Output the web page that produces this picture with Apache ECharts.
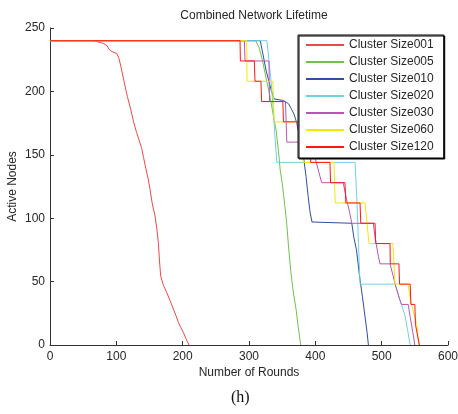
<!DOCTYPE html>
<html>
<head>
<meta charset="utf-8">
<script src="https://cdn.jsdelivr.net/npm/echarts@6/dist/echarts.min.js"></script>
<style>
  html, body { margin: 0; padding: 0; background: #fff; }
  #chart { width: 458px; height: 414px; }
</style>
</head>
<body>
<div id="chart"></div>
<script>
// Series names shown in the legend
const seriesNames = ['Cluster Size001', 'Cluster Size005', 'Cluster Size010', 'Cluster Size020',
                     'Cluster Size030', 'Cluster Size060', 'Cluster Size120'];

// Rounds / active-node pairs for each cluster size
const rounds001 = [0, 65, 72, 80, 86, 90, 95, 100.5, 104, 108, 112, 116.6, 121.6, 126, 130.6, 134, 138, 141, 144.7, 148, 150.8, 154, 158.3, 161, 163.3, 165, 166.8, 171, 175.9, 181, 186, 190, 193.5, 197, 201, 205, 209.6];
const nodes001  = [240, 240, 239, 238, 236, 232.5, 231, 230, 226, 217, 207, 196, 186, 176, 167.5, 162, 155.6, 148, 138.6, 131, 122.8, 112, 101.8, 92, 80.9, 67, 54.6, 47, 41.5, 35, 28.3, 23, 17.9, 14, 10, 5, 0];

const rounds005 = [0, 310, 315, 320, 326, 332, 337, 341, 345, 347, 350, 354, 357, 360, 363, 367, 371, 374, 378];
const nodes005  = [240, 240, 235, 225, 210, 195, 180, 169, 150, 138, 128, 110, 95, 75, 58, 41, 28, 15, 0];

const rounds010 = [0, 317, 320, 323, 326, 330, 334, 338, 350, 355, 360, 364, 368, 372, 376, 380, 383, 386, 389, 392, 395, 455, 458, 462, 467, 471, 475, 478, 480];
const nodes010  = [240, 240, 232, 224, 216, 208, 200, 194, 193, 192, 190, 186, 182, 175, 165, 155, 145, 133, 118, 105, 97, 96, 85, 75, 53, 38, 22, 10, 0];

const rounds020 = [0, 327, 330, 333, 336, 339, 342, 460, 463, 465, 467.4, 520, 525, 530, 535, 539, 543];
const nodes020  = [240, 240, 225, 210, 190, 165, 144, 144, 110, 80, 48, 48, 40, 31.5, 23.6, 12, 0];

const rounds030 = [0, 293, 294, 330, 331, 355, 357, 395, 397, 409.5, 442, 447, 452, 455, 487.5, 490, 495, 497.5, 512.6, 517, 522, 527, 530, 540, 543, 547, 550];
const nodes030  = [240, 240, 224, 224, 192, 192, 160, 160, 153, 128, 128, 115, 104, 96, 96, 85, 70, 64, 64, 55, 45, 36, 32, 32, 22, 10, 0];

const rounds060 = [0, 296.6, 297, 336, 338, 380, 382, 428, 430, 475, 479, 481, 517, 520, 540, 542, 545, 550, 553, 556];
const nodes060  = [240, 240, 208, 208, 176, 176, 144, 144, 112, 112, 90, 80, 80, 48, 48, 40, 32, 22, 16, 0];

const rounds120 = [0, 286.5, 287, 308, 309, 318, 319, 351, 352, 378, 379, 392, 393, 422, 423, 444.7, 446, 467.4, 468.5, 490, 491, 512.6, 513, 526, 527, 543, 544, 550, 551, 554, 556.8];
const nodes120  = [240, 240, 224, 224, 208, 208, 192, 192, 176, 176, 160, 160, 144, 144, 128, 128, 112, 112, 96, 96, 80, 80, 64, 64, 48, 48, 32, 32, 16, 16, 0];

// X and Y tick values
const xTicks = [0, 100, 200, 300, 400, 500, 600];
const yTicks = [0, 50, 100, 150, 200, 250];

const allRounds = [rounds001, rounds005, rounds010, rounds020, rounds030, rounds060, rounds120];
const allNodes  = [nodes001, nodes005, nodes010, nodes020, nodes030, nodes060, nodes120];
const colors = ['#f04848', '#72c04c', '#2f4ea6', '#6fd2e2', '#b956b3', '#f2ea00', '#ff1616'];

const series = seriesNames.map((name, i) => ({
  name: name,
  type: 'line',
  showSymbol: false,
  symbol: 'none',
  animation: false,
  color: colors[i],
  lineStyle: { width: 1, color: colors[i] },
  data: allRounds[i].map((r, k) => [r, allNodes[i][k]])
}));

const axisColor = '#333333';
const textColor = '#262626';
const font = 'Liberation Sans, Arial, sans-serif';

const chart = echarts.init(document.getElementById('chart'), null, { renderer: 'canvas' });
chart.setOption({
  animation: false,
  backgroundColor: '#ffffff',
  title: {
    text: 'Combined Network Lifetime',
    left: 249,
    textAlign: 'center',
    top: 5,
    textStyle: { fontFamily: font, fontSize: 12, fontWeight: 'normal', color: textColor }
  },
  grid: { left: 50, right: 10, top: 28, bottom: 69, containLabel: false, outerBoundsMode: 'none' },
  legend: {
    orient: 'vertical',
    left: 298,
    top: 35,
    padding: [4, 10, 5, 8],
    itemWidth: 38,
    itemHeight: 2,
    itemGap: 5,
    icon: 'rect',
    backgroundColor: '#ffffff',
    borderColor: '#000000',
    borderWidth: 1,
    borderRadius: 0,
    shadowColor: '#000000',
    shadowOffsetX: 1,
    shadowOffsetY: 1,
    shadowBlur: 0,
    textStyle: { fontFamily: font, fontSize: 12, color: textColor, lineHeight: 12 },
    data: seriesNames
  },
  xAxis: {
    type: 'value',
    min: xTicks[0],
    max: xTicks[xTicks.length - 1],
    interval: 100,
    name: 'Number of Rounds',
    nameLocation: 'middle',
    nameGap: 22,
    nameMoveOverlap: false,
    nameTextStyle: { fontFamily: font, fontSize: 12, color: textColor },
    axisLine: { show: true, lineStyle: { color: axisColor, width: 1 } },
    axisTick: { show: true, inside: true, length: 4, lineStyle: { color: axisColor } },
    axisLabel: { fontFamily: font, fontSize: 12, color: textColor, margin: 6 },
    splitLine: { show: false }
  },
  yAxis: {
    type: 'value',
    min: yTicks[0],
    max: yTicks[yTicks.length - 1],
    interval: 50,
    name: 'Active Nodes',
    nameLocation: 'middle',
    nameGap: 31,
    nameMoveOverlap: false,
    nameTextStyle: { fontFamily: font, fontSize: 12, color: textColor },
    axisLine: { show: true, lineStyle: { color: axisColor, width: 1 } },
    axisTick: { show: true, inside: true, length: 4, lineStyle: { color: axisColor } },
    axisLabel: { fontFamily: font, fontSize: 12, color: textColor, margin: 5 },
    splitLine: { show: false }
  },
  graphic: [{
    type: 'text',
    left: 231,
    top: 390,
    style: { text: '(h)', font: '16px "Liberation Serif", "Times New Roman", serif', fill: '#111' }
  }],
  series: series
});
</script>
</body>
</html>
